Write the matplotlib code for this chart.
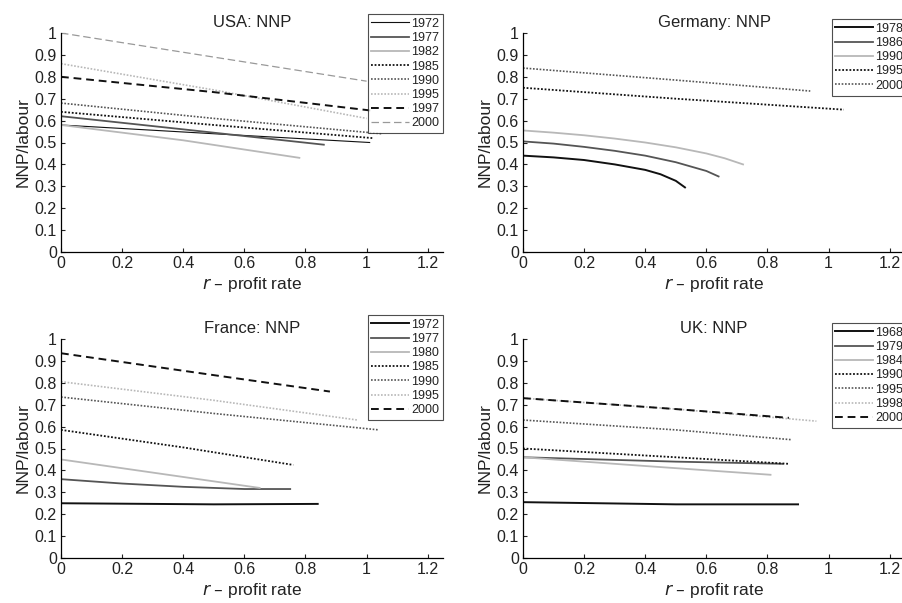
import matplotlib
matplotlib.use("Agg")
import matplotlib.pyplot as plt

plt.rcParams['font.family'] = ['Liberation Sans', 'DejaVu Sans']

# r - profit rate (x) and NNP/labour (y)
usa_years = ['1972', '1977', '1982', '1985', '1990', '1995', '1997', '2000']
usa_x = [[0, 0.5, 1.01], [0, 0.4, 0.86], [0, 0.4, 0.78], [0, 0.5, 1.02],
         [0, 0.5, 1.05], [0, 0.5, 1.0], [0, 0.5, 1.02], [0, 0.5, 1.0]]
usa_y = [[0.58, 0.54, 0.50], [0.62, 0.56, 0.49], [0.58, 0.51, 0.43], [0.64, 0.58, 0.52],
         [0.68, 0.61, 0.54], [0.86, 0.74, 0.61], [0.80, 0.73, 0.645], [1.0, 0.89, 0.78]]

ger_years = ['1978', '1986', '1990', '1995', '2000']
ger_x = [[0, 0.1, 0.2, 0.3, 0.4, 0.45, 0.5, 0.53],
         [0, 0.1, 0.2, 0.3, 0.4, 0.5, 0.55, 0.6, 0.64],
         [0, 0.1, 0.2, 0.3, 0.4, 0.5, 0.6, 0.66, 0.72],
         [0, 0.5, 1.05], [0, 0.5, 0.94]]
ger_y = [[0.44, 0.432, 0.42, 0.40, 0.375, 0.355, 0.325, 0.295],
         [0.505, 0.495, 0.48, 0.462, 0.44, 0.41, 0.39, 0.37, 0.345],
         [0.555, 0.545, 0.533, 0.518, 0.50, 0.478, 0.45, 0.428, 0.40],
         [0.75, 0.70, 0.65], [0.84, 0.785, 0.735]]

fra_years = ['1972', '1977', '1980', '1985', '1990', '1995', '2000']
fra_x = [[0, 0.5, 0.84], [0, 0.2, 0.4, 0.6, 0.75], [0, 0.3, 0.65], [0, 0.4, 0.76],
         [0, 0.5, 1.04], [0, 0.5, 0.97], [0, 0.5, 0.88]]
fra_y = [[0.25, 0.245, 0.247], [0.36, 0.34, 0.325, 0.315, 0.315], [0.45, 0.39, 0.32],
         [0.585, 0.505, 0.425], [0.735, 0.66, 0.585], [0.805, 0.72, 0.63], [0.935, 0.835, 0.76]]

uk_years = ['1968', '1979', '1984', '1990', '1995', '1998', '2000']
uk_x = [[0, 0.5, 0.90], [0, 0.5, 0.85], [0, 0.4, 0.81], [0, 0.5, 0.87],
        [0, 0.5, 0.88], [0, 0.5, 0.96], [0, 0.5, 0.87]]
uk_y = [[0.255, 0.245, 0.245], [0.46, 0.44, 0.43], [0.46, 0.42, 0.38], [0.50, 0.46, 0.43],
        [0.63, 0.585, 0.54], [0.73, 0.68, 0.625], [0.73, 0.68, 0.64]]

# line styles: (colour, linestyle, width)
BLK = '#111111'
DRK = '#555555'
LGT = '#b8b8b8'
DOT = (0, (1, 1))
DASH = (0, (4, 2.5))
sty = {
    'thin': (BLK, '-', 0.8),
    'black': (BLK, '-', 1.4),
    'dark': (DRK, '-', 1.3),
    'light': (LGT, '-', 1.3),
    'bdot': (BLK, DOT, 1.3),
    'ddot': (DRK, DOT, 1.2),
    'ldot': (LGT, DOT, 1.2),
    'bdash': (BLK, DASH, 1.4),
    'ldash': ('#999999', (0, (6, 3)), 0.9),
}
usa_sty = ['thin', 'dark', 'light', 'bdot', 'ddot', 'ldot', 'bdash', 'ldash']
ger_sty = ['black', 'dark', 'light', 'bdot', 'ddot']
fra_sty = ['black', 'dark', 'light', 'bdot', 'ddot', 'ldot', 'bdash']
uk_sty = ['black', 'dark', 'light', 'bdot', 'ddot', 'ldot', 'bdash']

fig = plt.figure(figsize=(9.02, 6.03), dpi=100)

panels = [
    ('USA: NNP', usa_years, usa_x, usa_y, usa_sty, [61, 33], (443, 14)),
    ('Germany: NNP', ger_years, ger_x, ger_y, ger_sty, [523, 33], (907, 19)),
    ('France: NNP', fra_years, fra_x, fra_y, fra_sty, [61, 339], (443, 315)),
    ('UK: NNP', uk_years, uk_x, uk_y, uk_sty, [523, 339], (907, 323)),
]

W, H = 902.0, 603.0
for title, years, xs, ys, styles, (left, top), (lx, ly) in panels:
    ax = fig.add_axes([left / W, 1 - (top + 219) / H, 382 / W, 219 / H])
    for yr, x, y, s in zip(years, xs, ys, styles):
        c, ls, lw = sty[s]
        ax.plot(x, y, color=c, linestyle=ls, linewidth=lw, label=yr)
    ax.set_xlim(0, 1.25)
    ax.set_ylim(0, 1.0)
    ax.set_xticks([0, 0.2, 0.4, 0.6, 0.8, 1, 1.2])
    ax.set_xticklabels(['0', '0.2', '0.4', '0.6', '0.8', '1', '1.2'])
    ax.set_yticks([i / 10 for i in range(11)])
    ax.set_yticklabels(['0'] + ['0.%d' % i for i in range(1, 10)] + ['1'])
    ax.tick_params(direction='in', length=3, labelsize=11.5, pad=3,
                   color='#222222', labelcolor='#222222')
    for sp in ['top', 'right']:
        ax.spines[sp].set_visible(False)
    for sp in ['left', 'bottom']:
        ax.spines[sp].set_linewidth(0.9)
    ax.set_title(title, fontsize=12, pad=4, color='#222222')
    ax.set_xlabel(r'$\it{r}$ – profit rate', fontsize=12.5, labelpad=3, color='#222222')
    ax.set_ylabel('NNP/labour', fontsize=12.5, labelpad=3, color='#222222')
    leg = ax.legend(loc='upper right', bbox_to_anchor=(lx / W, 1 - ly / H),
                    bbox_transform=fig.transFigure, fontsize=9, frameon=True,
                    fancybox=False, edgecolor='#222222', handlelength=3.0,
                    handletextpad=0.2, labelspacing=0.18, borderpad=0.3,
                    borderaxespad=0)
    leg.get_frame().set_linewidth(0.8)
    for t in leg.get_texts():
        t.set_color('#222222')

fig.savefig('out.png', dpi=100)
